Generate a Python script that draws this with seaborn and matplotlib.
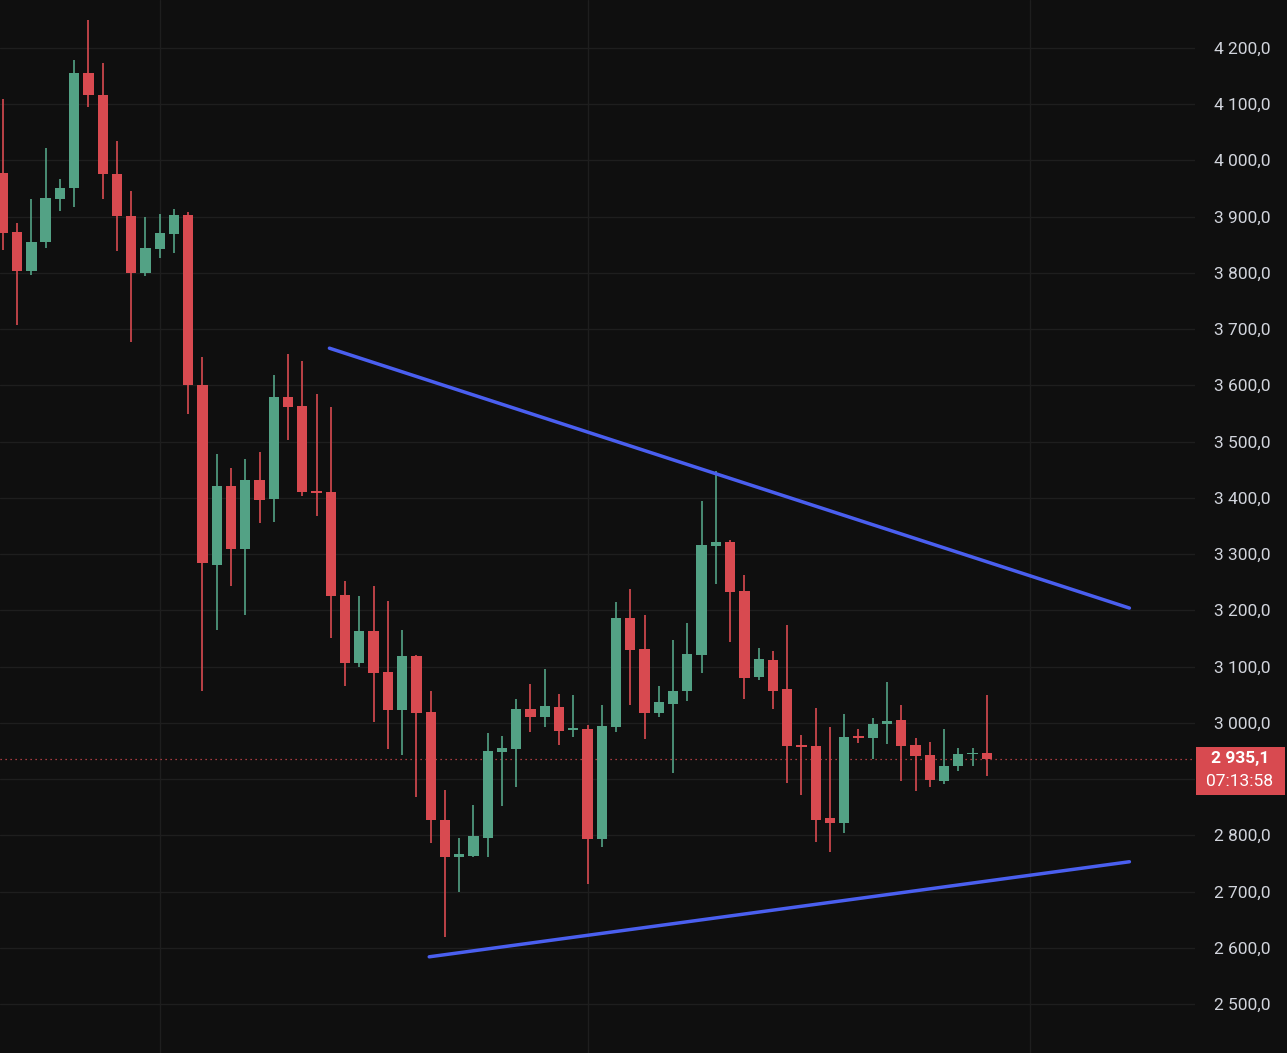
import numpy as np
import pandas as pd
import matplotlib
matplotlib.use('Agg')
import matplotlib.pyplot as plt
import seaborn as sns
from matplotlib.patches import Rectangle

BG = '#0f0f0f'
UP = '#53a285'
DOWN = '#d84a50'
GRID = '#1e1e1e'

opens = [3977, 3873, 3803, 3855, 3931, 3951, 4155, 4116, 3976, 3901,
         3800, 3842, 3869, 3903, 3600, 3280, 3421, 3309, 3432, 3398,
         3579, 3563, 3412, 3410, 3227, 3106, 3163, 3090, 3023, 3119,
         3019, 2827, 2761, 2763, 2795, 2948, 2953, 3024, 3010, 3028,
         2987, 2989, 2793, 2992, 3186, 3131, 3017, 3033, 3056, 3120,
         3314, 3321, 3234, 3081, 3112, 3060, 2960, 2959, 2831, 2822,
         2975, 2973, 2998, 3005, 2960, 2943, 2896, 2923, 2944, 2946]
closes = [3871, 3803, 3855, 3933, 3951, 4155, 4116, 3976, 3901, 3800,
          3844, 3871, 3903, 3600, 3284, 3421, 3309, 3432, 3396, 3579,
          3561, 3410, 3408, 3225, 3106, 3163, 3088, 3023, 3119, 3017,
          2827, 2761, 2767, 2799, 2950, 2955, 3024, 3010, 3030, 2985,
          2989, 2793, 2994, 3186, 3129, 3017, 3037, 3056, 3122, 3316,
          3321, 3232, 3079, 3113, 3056, 2959, 2957, 2827, 2822, 2975,
          2973, 2998, 3003, 2959, 2941, 2898, 2923, 2944, 2946, 2935.1]
highs = [4109, 3889, 3931, 4022, 3967, 4178, 4249, 4173, 4034, 3945,
         3899, 3905, 3913, 3908, 3650, 3478, 3453, 3469, 3481, 3618,
         3656, 3643, 3585, 3561, 3252, 3225, 3243, 3216, 3165, 3120,
         3056, 2880, 2795, 2854, 2982, 2977, 3042, 3069, 3096, 3051,
         3049, 2996, 3032, 3215, 3238, 3192, 3065, 3147, 3177, 3394,
         3448, 3325, 3263, 3133, 3127, 3174, 2978, 3026, 2992, 3016,
         2989, 3008, 3072, 3032, 2973, 2966, 2989, 2955, 2955, 3050]
lows = [3841, 3707, 3796, 3844, 3910, 3917, 4095, 3931, 3839, 3677,
        3794, 3826, 3835, 3549, 3056, 3165, 3243, 3192, 3355, 3357,
        3503, 3403, 3368, 3151, 3065, 3100, 3001, 2953, 2943, 2868,
        2786, 2619, 2699, 2761, 2761, 2852, 2886, 2984, 2993, 2960,
        2975, 2713, 2779, 2984, 3032, 2971, 3010, 2911, 3039, 3088,
        3247, 3144, 3042, 3076, 3024, 2893, 2872, 2788, 2770, 2804,
        2964, 2936, 2962, 2897, 2879, 2886, 2891, 2914, 2923, 2905]

# trend lines (candle index, price)
upper_x = [22.9, 79.0]
upper_y = [3666, 3204]
lower_x = [29.9, 79.0]
lower_y = [2584, 2753]

price_ticks = [2500, 2600, 2700, 2800, 2900, 3000, 3100, 3200, 3300,
               3400, 3500, 3600, 3700, 3800, 3900, 4000, 4100, 4200]
last_price = 2935.1
countdown = '07:13:58'

df = pd.DataFrame({'open': opens, 'close': closes, 'high': highs, 'low': lows})
df['idx'] = np.arange(len(df))
df['up'] = df['close'] >= df['open']
df['color'] = np.where(df['up'], UP, DOWN)

sns.set_style('dark')
plt.rcParams['font.family'] = ['Roboto', 'DejaVu Sans']

fig = plt.figure(figsize=(12.87, 10.53), dpi=100, facecolor=BG)
ax = fig.add_axes([0, 0, 1195 / 1287, 1])
ax.set_facecolor(BG)

for t in price_ticks:
    ax.axhline(t, color=GRID, lw=1, zorder=0)
for vx in [11, 41, 72]:
    ax.axvline(vx, color=GRID, lw=1, zorder=0)

ax.vlines(df['idx'], df['low'], df['high'], colors=df['color'], lw=1.2, zorder=2)
body_h = (df['close'] - df['open']).abs().clip(lower=3)
body_b = df[['open', 'close']].min(axis=1)
ax.bar(df['idx'], body_h, bottom=body_b, width=0.72, color=df['color'],
       linewidth=0, edgecolor='none', zorder=3)

sns.lineplot(x=upper_x, y=upper_y, ax=ax, color='#4a5ff0', lw=2.5, zorder=4)
sns.lineplot(x=lower_x, y=lower_y, ax=ax, color='#4a5ff0', lw=2.5, zorder=4)

ax.axhline(last_price, color=DOWN, lw=0.9, ls=(0, (1, 3)), zorder=1)

ax.set_xlim(-0.2, 83.6)
ax.set_ylim(2413, 4285)
ax.set_xticks([])
ax.yaxis.tick_right()
ax.set_yticks(price_ticks)
ax.set_yticklabels([f'{t // 1000} {t % 1000:03d},0' for t in price_ticks])
ax.tick_params(axis='y', length=0, pad=14, labelcolor='#d1d4dc', labelsize=12.5)
for s in ax.spines.values():
    s.set_visible(False)

# last price badge (figure pixels)
W, H = 1287, 1053
fig.patches.append(Rectangle((1196 / W, (H - 795) / H), 89 / W, 48 / H,
                             transform=fig.transFigure, fc=DOWN, ec='none',
                             zorder=10))
fig.text(1240 / W, (H - 759) / H, '2 935,1', ha='center', va='center',
         color='white', fontsize=12.5, fontweight='bold', zorder=11)
fig.text(1240 / W, (H - 782) / H, countdown, ha='center', va='center',
         color='white', fontsize=12.5, zorder=11)

fig.savefig('out.png', dpi=100, facecolor=BG)
